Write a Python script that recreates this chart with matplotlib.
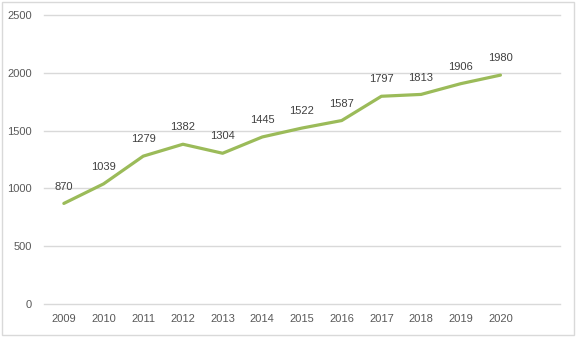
import matplotlib.pyplot as plt
from matplotlib.patches import Rectangle

# data
years = ['2009', '2010', '2011', '2012', '2013', '2014', '2015', '2016',
         '2017', '2018', '2019', '2020']
values = [870, 1039, 1279, 1382, 1304, 1445, 1522, 1587, 1797, 1813, 1906, 1980]
yticks = [0, 500, 1000, 1500, 2000, 2500]

plt.rcParams['font.family'] = ['Liberation Sans', 'DejaVu Sans']
txt = '#595959'
lbl = '#404040'
green = '#9BBB59'

fig = plt.figure(figsize=(5.77, 3.37), dpi=100)
ax = fig.add_axes([44 / 577, 1 - 304 / 337, 516 / 577, 289 / 337])

x = list(range(len(years)))
ax.plot(x, values, color=green, lw=2.3, solid_capstyle='round', zorder=3)
for xi, v in zip(x, values):
    ax.annotate(str(v), (xi, v), xytext=(0, 8.5), textcoords='offset points',
                ha='center', va='bottom', fontsize=8, color=lbl)

ax.set_xlim(-0.5, 12.5)
ax.set_ylim(0, 2500)
ax.set_yticks(yticks)
ax.set_xticks(x)
ax.set_xticklabels(years)
ax.grid(axis='y', color='#D9D9D9', lw=1)
for gl in ax.get_ygridlines():
    gl.set_clip_on(False)
ax.set_axisbelow(True)
for s in ax.spines.values():
    s.set_visible(False)
ax.tick_params(length=0, labelsize=8, labelcolor=txt)
ax.tick_params(axis='y', pad=8.5)
ax.tick_params(axis='x', pad=7.5)

# outer chart border
fig.patches.append(Rectangle((2 / 577, 2 / 337), 572 / 577, 333 / 337,
                             transform=fig.transFigure, fill=False,
                             edgecolor='#D9D9D9', lw=1))

fig.savefig('out.png', dpi=100)
